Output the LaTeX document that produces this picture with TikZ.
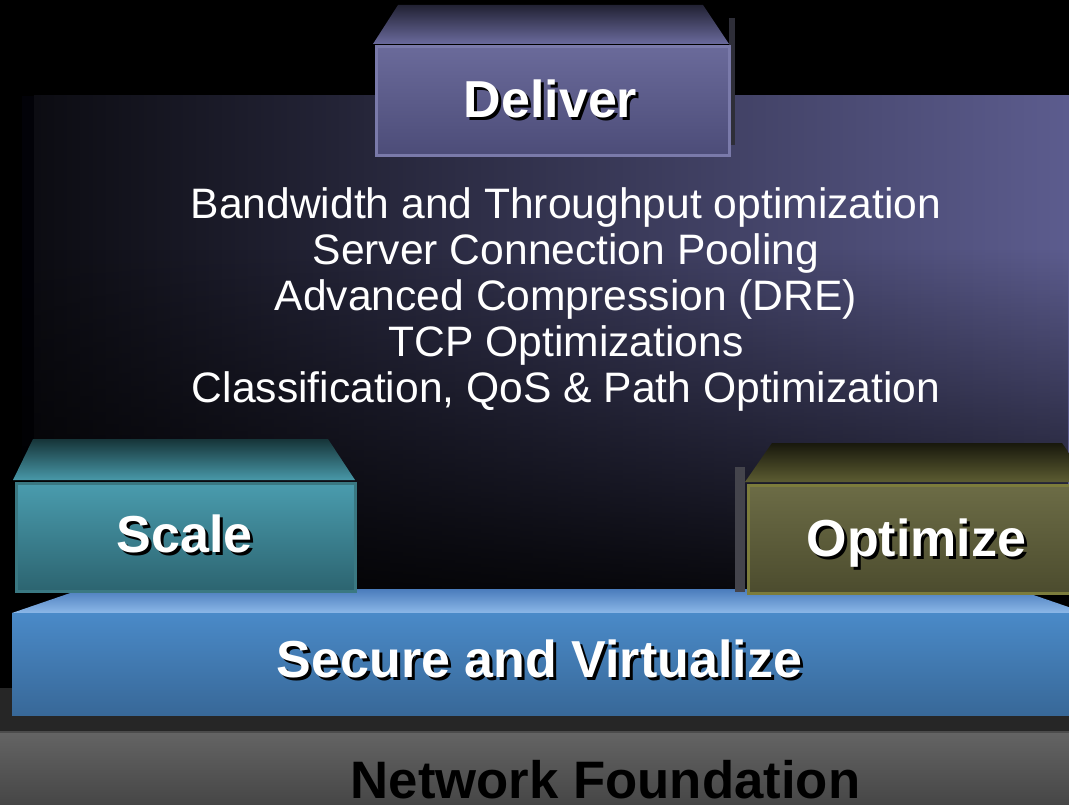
\documentclass[tikz,border=0pt]{standalone}
\usepackage{fontspec}
\setmainfont{Liberation Sans}
\usetikzlibrary{fadings}
\definecolor{pdark}{HTML}{0C0C12}
\definecolor{pmid}{HTML}{3C3C5E}
\definecolor{ppurple}{HTML}{5C5C8E}
\definecolor{pedge}{HTML}{020208}
\definecolor{dvTopA}{HTML}{222234}
\definecolor{dvTopB}{HTML}{6A6A9C}
\definecolor{dvFrontA}{HTML}{6A6A9A}
\definecolor{dvFrontB}{HTML}{4C4C78}
\definecolor{dvBorder}{HTML}{7A7AAA}
\definecolor{dvShadow}{HTML}{2E2E38}
\definecolor{scTopA}{HTML}{163438}
\definecolor{scTopB}{HTML}{4898A8}
\definecolor{scFrontA}{HTML}{4A9CAE}
\definecolor{scFrontB}{HTML}{2C6470}
\definecolor{scBorder}{HTML}{3A7882}
\definecolor{opTopA}{HTML}{18180C}
\definecolor{opTopB}{HTML}{5C5C32}
\definecolor{opFrontA}{HTML}{6C6C46}
\definecolor{opFrontB}{HTML}{4C4C2E}
\definecolor{opBorder}{HTML}{7C7C3C}
\definecolor{opShadow}{HTML}{44444C}
\definecolor{svTopA}{HTML}{4A7CBC}
\definecolor{svTopB}{HTML}{8CB8E8}
\definecolor{svFrontA}{HTML}{4A8AC8}
\definecolor{svFrontB}{HTML}{386898}
\definecolor{nfA}{HTML}{646464}
\definecolor{nfB}{HTML}{464646}
\tikzset{
  boxtitle/.style={font=\bfseries\fontsize{52}{52}\selectfont, text=white, anchor=base, inner sep=0pt},
  titleshadow/.style={font=\bfseries\fontsize{52}{52}\selectfont, text=black, anchor=base, inner sep=0pt},
  frontface/.style={rectangle, line width=3pt, inner sep=0pt, anchor=north west},
  listtext/.style={font=\fontsize{42.6}{46}\selectfont, text=white, align=center, inner sep=0pt}
}
\begin{document}
\begin{tikzpicture}[x=1pt,y=-1pt]
\useasboundingbox (0,0) rectangle (1069,805);
\fill[black] (0,0) rectangle (1069,805);
% big purple panel
\fill[pedge] (22,96) rectangle (34,592);
\shade[left color=pdark, middle color=pmid, right color=ppurple] (34,96) rectangle (1069,592);
\fill[black, path fading=north, opacity=0.88] (22,250) rectangle (1069,592);
% feature list
\node[listtext] (features) at (566,299) {Bandwidth and Throughput optimization\\Server Connection Pooling\\Advanced Compression (DRE)\\TCP Optimizations\\Classification, QoS \& Path Optimization};
% Deliver box
\shade[top color=dvTopA, bottom color=dvTopB] (398,5) -- (703,5) -- (729,44) -- (373,44) -- cycle;
\fill[dvShadow] (729,18) rectangle (735,145);
\node[frontface, draw=dvBorder, top color=dvFrontA, bottom color=dvFrontB, minimum width=353pt, minimum height=109pt] (deliverbox) at (374.5,45.5) {};
\node[titleshadow] (delivershadow) at (553.5,121) {Deliver};
\node[boxtitle] (delivertext) at (550.5,118) {Deliver};
% bottom bands
\fill[black!85] (0,688) rectangle (1069,732);
\shade[top color=nfA, bottom color=nfB] (0,732) rectangle (1069,805);
\fill[black!70] (0,731) rectangle (1069,733);
\node[anchor=base, inner sep=0pt, font=\bfseries\fontsize{52.7}{52.7}\selectfont, text=black] (foundation) at (605.5,798) {Network Foundation};
% Secure and Virtualize slab
\shade[top color=svTopA, bottom color=svTopB] (82,589) -- (1016,589) -- (1086,613) -- (12,613) -- cycle;
\shade[top color=svFrontA, bottom color=svFrontB] (12,613) rectangle (1075,715);
\node[titleshadow] (secureshadow) at (542.5,680) {Secure and Virtualize};
\node[boxtitle] (securetext) at (539.5,677) {Secure and Virtualize};
% Scale box
\shade[top color=scTopA, bottom color=scTopB] (33,439) -- (328,439) -- (355,480) -- (13,480) -- cycle;
\node[frontface, draw=scBorder, top color=scFrontA, bottom color=scFrontB, minimum width=339pt, minimum height=108pt] (scalebox) at (14.5,481.5) {};
\node[titleshadow] (scaleshadow) at (187.5,555) {Scale};
\node[boxtitle] (scaletext) at (184.5,552) {Scale};
% Optimize box
\fill[opShadow] (735,467) rectangle (745,592);
\shade[top color=opTopA, bottom color=opTopB] (772,443) -- (1062,443) -- (1089,482) -- (745,482) -- cycle;
\node[frontface, draw=opBorder, top color=opFrontA, bottom color=opFrontB, minimum width=345pt, minimum height=108pt] (optimizebox) at (746.5,483.5) {};
\node[titleshadow] (optimizeshadow) at (919.5,559) {Optimize};
\node[boxtitle] (optimizetext) at (916.5,556) {Optimize};
\end{tikzpicture}
\end{document}
